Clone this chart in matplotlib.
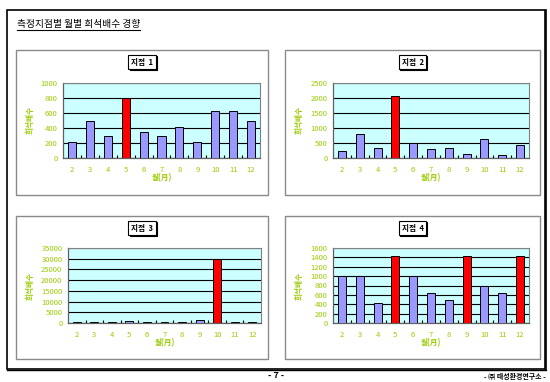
import matplotlib
matplotlib.use("Agg")
import matplotlib.pyplot as plt
from matplotlib.patches import Rectangle
from matplotlib.lines import Line2D
import numpy as np

plt.rcParams['font.family'] = ['Noto Sans CJK KR', 'DejaVu Sans']

months = [2, 3, 4, 5, 6, 7, 8, 9, 10, 11, 12]
month_labels = [str(m) for m in months]

site1 = [210, 500, 300, 800, 350, 300, 420, 210, 630, 630, 500]
site2 = [220, 800, 350, 2080, 500, 300, 350, 130, 640, 100, 420]
site3 = [400, 600, 400, 900, 700, 400, 400, 1600, 30000, 400, 400]
site4 = [1000, 1000, 420, 1430, 1000, 630, 490, 1430, 800, 630, 1430]

highlight1 = [5]
highlight2 = [5]
highlight3 = [10]
highlight4 = [5, 9, 12]

titles = ["지점  1", "지점  2", "지점  3", "지점  4"]
ymax = [1000, 2500, 35000, 1600]
ystep = [200, 500, 5000, 200]

page_title = "측정지점별 월별 희석배수 경향"
ylabel = "희석배수"
xlabel = "월(月)"
footer_page = "- 7 -"
footer_org = "- ㈜ 태성환경연구소 -"

W, H = 550, 382
fig = plt.figure(figsize=(W / 100, H / 100), dpi=100)
fig.patch.set_facecolor('white')


def fx(x):
    return x / W


def fy(y):
    return 1 - y / H


def rect_px(x0, y0, x1, y1, **kw):
    r = Rectangle((fx(x0), fy(y1)), fx(x1) - fx(x0), fy(y0) - fy(y1),
                  transform=fig.transFigure, fill=False, **kw)
    fig.patches.append(r)


# page border
rect_px(7, 10, 545, 369, edgecolor='black', linewidth=1.2)
fig.add_artist(Line2D([fx(546), fx(546)], [fy(10), fy(370)], color='black', lw=1.2))
fig.add_artist(Line2D([fx(7), fx(546)], [fy(370), fy(370)], color='black', lw=1.0))

# panel frames
panels = [(16, 50, 268, 195), (285, 50, 540, 195), (16, 216, 268, 359), (285, 216, 540, 359)]
for p in panels:
    rect_px(*p, edgecolor='#8a8a8a', linewidth=1.0)

axes_px = [(63, 83, 260, 158), (333, 83, 529, 158), (68, 248, 261, 323), (333, 248, 529, 323)]

data = [site1, site2, site3, site4]
highs = [highlight1, highlight2, highlight3, highlight4]
label_color = '#99CC00'

for i in range(4):
    x0, y0, x1, y1 = axes_px[i]
    ax = fig.add_axes([fx(x0), fy(y1), fx(x1) - fx(x0), fy(y0) - fy(y1)])
    ax.set_facecolor('#CCFFFF')
    xs = np.arange(len(months))
    colors = ['#FF0000' if m in highs[i] else '#9999FF' for m in months]
    ax.bar(xs, data[i], width=0.45, color=colors, edgecolor='black', linewidth=0.7, zorder=3)
    ax.set_xlim(-0.5, len(months) - 0.5)
    ax.set_ylim(0, ymax[i])
    yt = np.arange(0, ymax[i] + 1, ystep[i])
    ax.set_yticks(yt)
    ax.set_yticklabels([str(v) for v in yt], color=label_color, fontsize=5.5)
    ax.grid(axis='y', color='black', linewidth=0.8, zorder=1)
    ax.set_axisbelow(True)
    ax.set_xticks(xs)
    ax.set_xticklabels(month_labels, color=label_color, fontsize=5.5)
    ax.set_xticks(xs[:-1] + 0.5, minor=True)
    ax.tick_params(axis='x', which='major', length=0, pad=6)
    ax.tick_params(axis='x', which='minor', length=2, direction='in', color='black', width=0.8)
    ax.tick_params(axis='y', length=0, pad=4)
    for s in ['top', 'right']:
        ax.spines[s].set_color('#808080')
        ax.spines[s].set_linewidth(0.8)
    for s in ['left', 'bottom']:
        ax.spines[s].set_color('#606060')
        ax.spines[s].set_linewidth(0.9)

    px0, py0, px1, py1 = panels[i]
    cx = (px0 + px1) / 2
    # panel title with shadow
    fig.text(fx(cx + 1.2), fy(62 + (py0 - 50) + 1.2), titles[i], fontsize=5.5, fontweight='bold',
             ha='center', va='center', color='black',
             bbox=dict(boxstyle='square,pad=0.35', facecolor='black', edgecolor='black', linewidth=0.8))
    fig.text(fx(cx), fy(62 + (py0 - 50)), titles[i], fontsize=5.5, fontweight='bold',
             ha='center', va='center', color='black',
             bbox=dict(boxstyle='square,pad=0.35', facecolor='white', edgecolor='black', linewidth=0.8))

    # axis labels
    fig.text(fx(px0 + 14), fy((y0 + y1) / 2), ylabel, rotation=90, fontsize=5.5, color=label_color,
             ha='center', va='center', fontweight='bold')
    fig.text(fx((x0 + x1) / 2), fy(y1 + 20), xlabel, fontsize=5.5, color=label_color,
             ha='center', va='center', fontweight='bold')

# page title with underline
t = fig.text(fx(17), fy(24), page_title, fontsize=7, fontweight='medium', ha='left', va='center')
fig.canvas.draw()
bb = t.get_window_extent(renderer=fig.canvas.get_renderer())
fig.add_artist(Line2D([bb.x0 / W, bb.x1 / W], [bb.y0 / H - 1 / H, bb.y0 / H - 1 / H],
                      color='black', lw=0.8))

# footer
fig.text(fx(276), fy(375), footer_page, fontsize=6.5, ha='center', va='center', fontweight='bold')
fig.text(fx(515), fy(376), footer_org, fontsize=5, ha='center', va='center', fontweight='bold')

fig.savefig('out.png', dpi=100, facecolor='white')
